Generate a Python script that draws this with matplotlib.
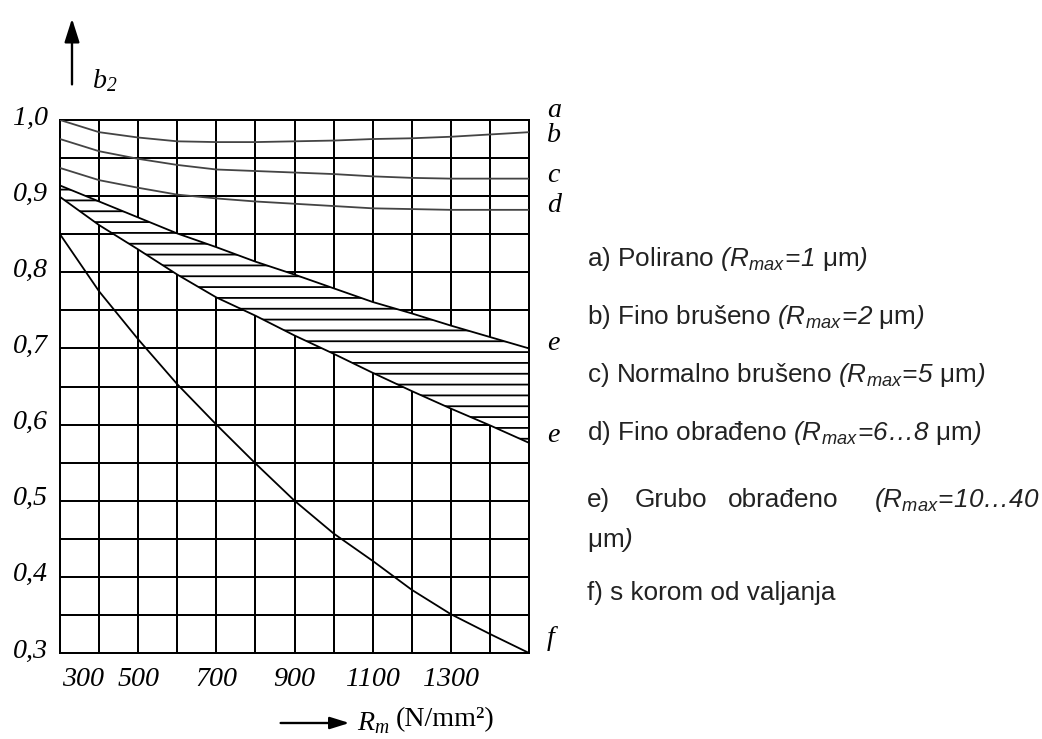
import numpy as np
import matplotlib.pyplot as plt

plt.rcParams['mathtext.fontset'] = 'custom'
plt.rcParams['mathtext.rm'] = 'Liberation Sans'
plt.rcParams['mathtext.it'] = 'Liberation Sans:italic'
plt.rcParams['mathtext.sf'] = 'Liberation Sans:italic'
plt.rcParams['mathtext.cal'] = 'Liberation Serif:italic'
plt.rcParams['hatch.linewidth'] = 1.0

# vlačna čvrstoća R_m (N/mm^2) i faktor površine b2, očitano s dijagrama
rm = [300, 400, 500, 600, 700, 800, 900, 1000, 1100, 1200, 1300, 1400, 1500]
b2_a = [1.000, 1.000, 1.000, 1.000, 1.000, 1.000, 1.000, 1.000, 1.000, 1.000, 1.000, 1.000, 1.000]
b2_b = [1.000, 0.984, 0.977, 0.972, 0.971, 0.971, 0.972, 0.973, 0.975, 0.976, 0.978, 0.981, 0.984]
b2_c = [0.975, 0.959, 0.949, 0.941, 0.935, 0.933, 0.931, 0.929, 0.926, 0.924, 0.923, 0.923, 0.923]
b2_d = [0.937, 0.921, 0.911, 0.902, 0.897, 0.893, 0.890, 0.887, 0.884, 0.883, 0.882, 0.882, 0.882]
b2_e_gornja = [0.914, 0.893, 0.872, 0.851, 0.833, 0.814, 0.797, 0.779, 0.761, 0.746, 0.730, 0.715, 0.700]
b2_e_donja = [0.899, 0.862, 0.830, 0.797, 0.767, 0.743, 0.717, 0.693, 0.668, 0.644, 0.621, 0.599, 0.576]
b2_f = [0.850, 0.775, 0.712, 0.653, 0.600, 0.549, 0.500, 0.457, 0.421, 0.383, 0.351, 0.325, 0.300]

x_oznake = [300, 500, 700, 900, 1100, 1300]
y_oznake = [0.3, 0.4, 0.5, 0.6, 0.7, 0.8, 0.9, 1.0]
y_tekst = ['0,3', '0,4', '0,5', '0,6', '0,7', '0,8', '0,9', '1,0']
krivulje = ['a', 'b', 'c', 'd', 'e', 'e', 'f']

legenda = [
    r'a) Polirano $\mathsf{(R_{max}\!=\!1}$ μm$\mathsf{)}$',
    r'b) Fino brušeno $\mathsf{(R_{max}\!=\!2}$ μm$\mathsf{)}$',
    r'c) Normalno brušeno $\mathsf{(R_{max}\!=\!5}$ μm$\mathsf{)}$',
    r'd) Fino obrađeno $\mathsf{(R_{max}\!=\!6…8}$ μm$\mathsf{)}$',
]

W, H = 1042, 739
DPI = 130
fig = plt.figure(figsize=(W / DPI, H / DPI), dpi=DPI)
ax = fig.add_axes([60 / W, 86 / H, 469 / W, 533 / H])

serif = dict(family='Liberation Serif', style='italic', fontsize=15.5)
sans = dict(family='Liberation Sans', fontsize=14.5, color='#222222')

# mreža
ax.set_xlim(300, 1500)
ax.set_ylim(0.3, 1.0)
ax.set_xticks(np.arange(300, 1501, 100))
ax.set_yticks(np.arange(0.3, 1.0001, 0.05))
ax.set_axisbelow(True)
ax.grid(True, color='black', lw=1.1)
ax.tick_params(length=0, labelbottom=False, labelleft=False)
for s in ax.spines.values():
    s.set_linewidth(1.1)

# šrafirano područje e
ax.fill_between(rm, b2_e_donja, b2_e_gornja, facecolor='white', edgecolor='black',
                lw=0, hatch='--', zorder=1)

ax.plot(rm, b2_a, color='black', lw=1.1, zorder=3)
ax.plot(rm, b2_b, color='#444444', lw=1.0, zorder=3)
ax.plot(rm, b2_c, color='#444444', lw=1.0, zorder=3)
ax.plot(rm, b2_d, color='#444444', lw=1.0, zorder=3)
ax.plot(rm, b2_e_gornja, color='black', lw=1.0, zorder=3)
ax.plot(rm, b2_e_donja, color='black', lw=1.0, zorder=3)
ax.plot(rm, b2_f, color='black', lw=1.0, zorder=3)

# oznake osi
for v, t in zip(y_oznake, y_tekst):
    ax.annotate(t, xy=(0, v), xycoords=('axes fraction', 'data'), xytext=(-12, 2),
                textcoords='offset pixels', ha='right', va='center', **serif)
for v in x_oznake:
    if v == 300:
        ax.annotate(str(v), xy=(v, 0), xycoords=('data', 'axes fraction'), xytext=(2, -27),
                    textcoords='offset pixels', ha='left', va='center', **serif)
    else:
        ax.annotate(str(v), xy=(v, 0), xycoords=('data', 'axes fraction'), xytext=(0, -27),
                    textcoords='offset pixels', ha='center', va='center', **serif)

# slova krivulja na desnom rubu
kraj = [b2_a[-1] + 0.012, b2_b[-1] - 0.004, b2_c[-1] + 0.004, b2_d[-1] + 0.006,
        b2_e_gornja[-1] + 0.006, b2_e_donja[-1] + 0.009, b2_f[-1] + 0.019]
for t, v in zip(krivulje, kraj):
    ax.annotate(t, xy=(1, v), xycoords=('axes fraction', 'data'), xytext=(18, 0),
                textcoords='offset pixels', ha='left', va='center', **serif)

# strelice i nazivi osi
ax.annotate('', xy=(72, H - 15), xytext=(72, H - 88), xycoords='figure pixels',
            textcoords='figure pixels', annotation_clip=False,
            arrowprops=dict(arrowstyle='-|>,head_length=11,head_width=3.5', mutation_scale=1,
                            color='black', lw=1.3))
fig.text(92 / W, 1 - 80 / H, r'$\mathcal{b_2}$', fontsize=15.5, ha='left', va='center')

ax.annotate('', xy=(353, H - 723), xytext=(277, H - 723), xycoords='figure pixels',
            textcoords='figure pixels', annotation_clip=False,
            arrowprops=dict(arrowstyle='-|>,head_length=9,head_width=2.8', mutation_scale=1,
                            color='black', lw=1.3))
fig.text(357 / W, 1 - 722 / H, r'$\mathcal{R_m}$', fontsize=15.5, ha='left', va='center')
fig.text(396 / W, 1 - 720 / H, '(N/mm²)', family='Liberation Serif', fontsize=15.5,
         ha='left', va='center')

# legenda
for i, t in enumerate(legenda):
    fig.text(587 / W, 1 - (259 + 58 * i) / H, t, ha='left', va='center', **sans)
fig.text(587 / W, 1 - 500 / H, 'e)', ha='left', va='center', **sans)
fig.text(635 / W, 1 - 500 / H, 'Grubo', ha='left', va='center', **sans)
fig.text(728 / W, 1 - 500 / H, 'obrađeno', ha='left', va='center', **sans)
fig.text(1040 / W, 1 - 500 / H, r'$\mathsf{(R_{max}\!=\!10…40}$', ha='right', va='center', **sans)
fig.text(587 / W, 1 - 540 / H, r'μm$\mathsf{)}$', ha='left', va='center', **sans)
fig.text(587 / W, 1 - 593 / H, 'f) s korom od valjanja', ha='left', va='center', **sans)

fig.savefig('out.png', dpi=DPI)
